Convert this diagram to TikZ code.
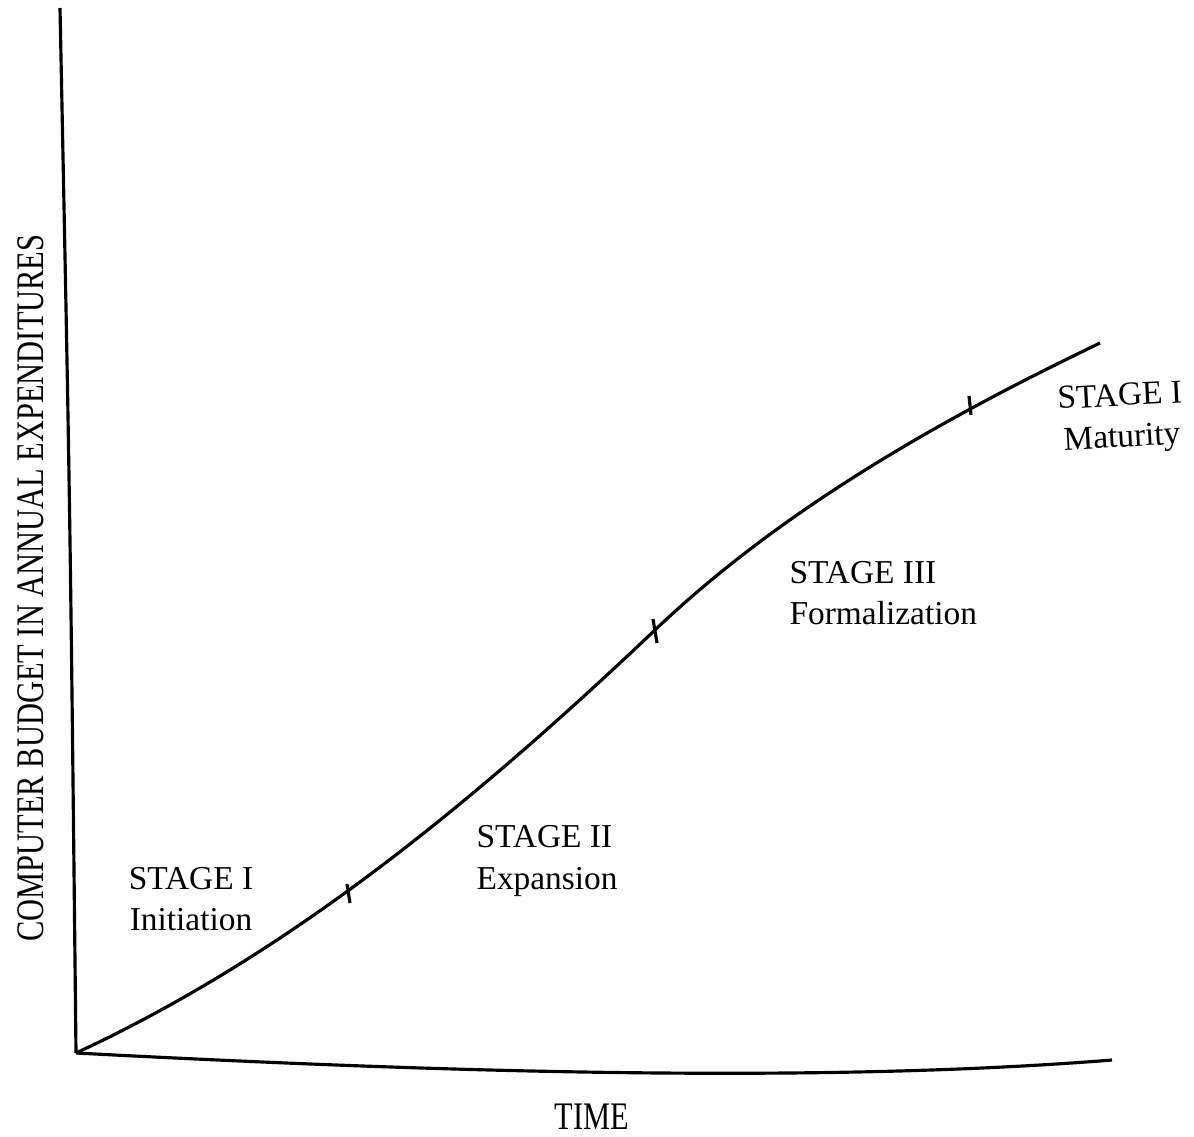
\documentclass[tikz,border=0pt]{standalone}
\usepackage{fontspec}
\setmainfont{Liberation Serif}
\newfontfamily\axisfont[FakeStretch=0.78]{Liberation Serif}
\tikzset{
  stagelabel/.style={align=left,font=\fontsize{9.5}{11.8}\selectfont,inner sep=0pt},
  axislabel/.style={font=\axisfont\fontsize{11.1}{13}\selectfont,inner sep=0pt},
}
\begin{document}
\begin{tikzpicture}[x=0.01cm,y=-0.01cm,line width=0.9pt]
  \useasboundingbox (0,0) rectangle (1194,1136);
  % axes
  \draw (60,8) .. controls (70,500) .. (76,1053);
  \draw (76,1053) .. controls (400,1070) and (800,1085) .. (1112,1060);
  \node[axislabel,rotate=90] (ylab) at (31,588) {COMPUTER BUDGET IN ANNUAL EXPENDITURES};
  \node[axislabel] (xlab) at (592,1117) {TIME};
  % growth curve
  \draw (76,1053) .. controls (276,960) and (455,820) .. (655,630)
        .. controls (785,506) and (950,415) .. (1100,343);
  \draw (347,884) -- (350,903);
  \draw (653,619) -- (657,643);
  \draw (969,396) -- (971,415);
  % stages
  \node[stagelabel,align=center] (s1) at (191,899) {STAGE I\\Initiation};
  \node[stagelabel,anchor=west] (s2) at (475,861) {STAGE II\\Expansion};
  \node[stagelabel,anchor=west] (s3) at (788,593) {STAGE III\\Formalization};
  \node[stagelabel,align=center,rotate=3] (s4) at (1121,419) {STAGE I\\Maturity};
\end{tikzpicture}
\end{document}
